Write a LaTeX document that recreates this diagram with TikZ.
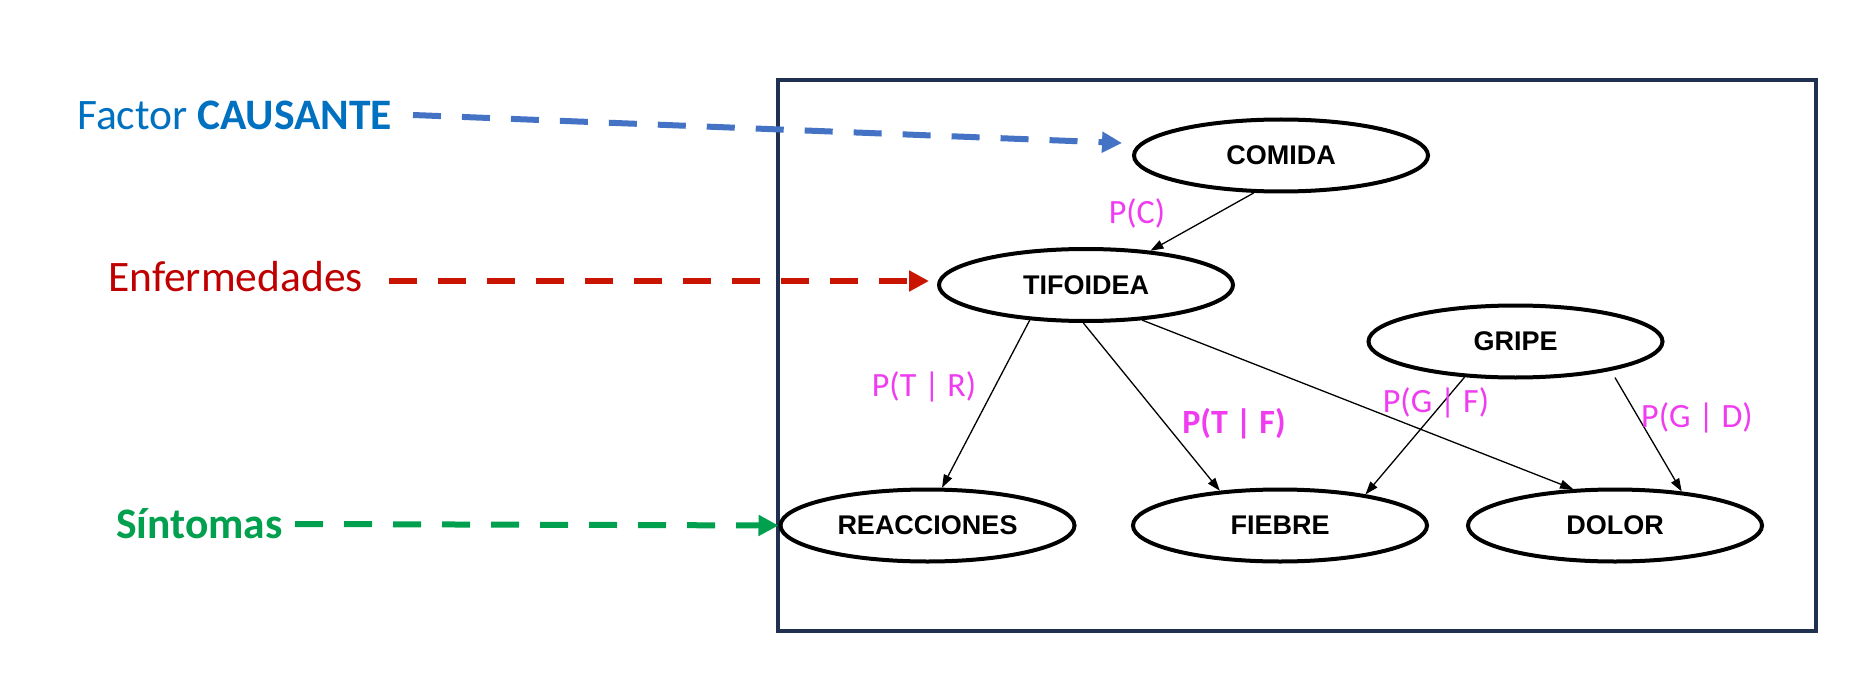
\documentclass[tikz,border=0pt]{standalone}
\usepackage{fontspec}
\setmainfont{Carlito}
\newfontfamily\nodefont{Liberation Sans}
\usetikzlibrary{arrows.meta,shapes.geometric}
\definecolor{frameblue}{HTML}{1F3050}
\definecolor{causeblue}{HTML}{0070C0}
\definecolor{arrowblue}{HTML}{4472C4}
\definecolor{disred}{HTML}{C00000}
\definecolor{arrowred}{HTML}{C81400}
\definecolor{symgreen}{HTML}{00A04E}
\definecolor{probpink}{HTML}{F03CF0}
\tikzset{
  varnode/.style={ellipse, draw=black, line width=4pt, minimum width=294pt, minimum height=72pt, inner sep=0pt,
    font=\nodefont\bfseries\fontsize{27}{32}\selectfont},
  bayesedge/.style={draw=black, line width=1.3pt, -{Triangle[length=13pt,width=9pt]}},
  bigarrow/.style={line width=6pt, dash pattern=on 28pt off 21pt, -{Triangle[length=20pt,width=20pt]}},
  sidelabel/.style={inner sep=0pt, anchor=base west, font=\fontsize{43.5}{52}\selectfont},
  problabel/.style={inner sep=0pt, anchor=base, text=probpink, font=\fontsize{34}{40}\selectfont}
}
\begin{document}
\begin{tikzpicture}[x=1pt,y=-1pt]
\useasboundingbox[fill=white] (0,0) rectangle (1876,679);
% frame
\draw[frameblue, line width=3.3pt] (778,80) rectangle (1816,631);
% graph nodes
\node[varnode] (com) at (1281,155.5) {COMIDA};
\node[varnode] (tif) at (1086,285) {TIFOIDEA};
\node[varnode] (gri) at (1515.5,341.5) {GRIPE};
\node[varnode] (rea) at (927.5,525.5) {REACCIONES};
\node[varnode] (fie) at (1280,525.5) {FIEBRE};
\node[varnode] (dol) at (1615,525.5) {DOLOR};
% graph edges
\draw[bayesedge] (com.-126) -- (tif.28);
\draw[bayesedge] (tif.-148) -- (rea.69);
\draw[bayesedge] (tif.-94) -- (fie.150);
\draw[bayesedge] (tif.-32) -- (dol.139);
\draw[bayesedge] (gri.-145) -- (fie.20);
\draw[bayesedge, shorten <=8pt] (gri.-17) -- (dol.27);
% probability labels
\node[problabel] (pc) at (1137,223) {P(C)};
\node[problabel] (ptr) at (924,396) {P(T | R)};
\node[problabel, font=\bfseries\fontsize{34}{40}\selectfont] (ptf) at (1234,433) {P(T | F)};
\node[problabel] (pgf) at (1436,412) {P(G | F)};
\node[problabel] (pgd) at (1697,427) {P(G | D)};
% side labels
\node[sidelabel, text=causeblue] (fac) at (77,130) {Factor \textbf{CAUSANTE}};
\node[sidelabel, text=disred] (enf) at (108,291) {Enfermedades};
\node[sidelabel, text=symgreen, font=\bfseries\fontsize{43.5}{52}\selectfont] (sin) at (116,538) {Síntomas};
\coordinate (facS) at (413,115);
\coordinate (enfS) at (389,281);
\coordinate (sinS) at (295,524);
\draw[bigarrow, arrowblue] (facS) -- ([xshift=-10pt,yshift=12.5pt]com.west);
\draw[bigarrow, arrowred] (enfS) -- ([xshift=-8pt,yshift=4pt]tif.west);
\draw[bigarrow, symgreen] (sinS) -- (rea.west);
\end{tikzpicture}
\end{document}
